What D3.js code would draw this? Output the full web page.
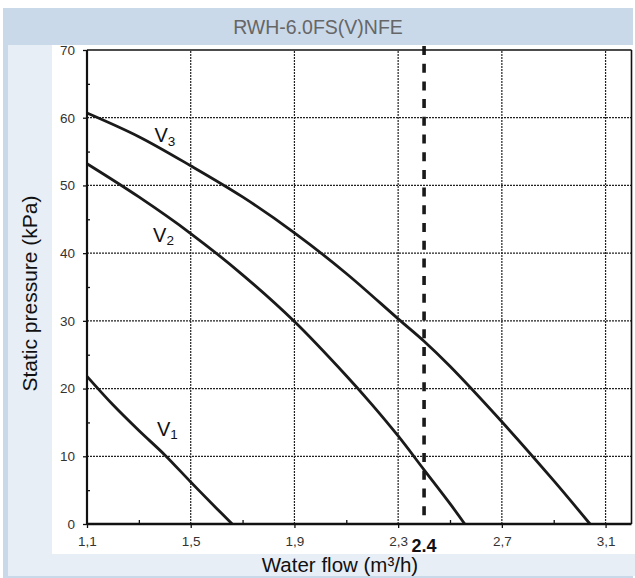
<!DOCTYPE html>
<html><head><meta charset="utf-8">
<script src="https://cdn.jsdelivr.net/npm/d3@7"></script>
<style>body{margin:0;background:#fff}svg{display:block;font-family:"Liberation Sans",Arial,sans-serif}</style>
</head><body><svg id="c" width="635" height="578"></svg>
<script>
// ---- data ----
const chartTitle = "RWH-6.0FS(V)NFE";
const xTitle = "Water flow (m³/h)";
const yTitle = "Static pressure (kPa)";
const xTicks = [1.1, 1.5, 1.9, 2.3, 2.7, 3.1];
const xTickLabels = ["1,1", "1,5", "1,9", "2,3", "2,7", "3,1"];
const xMinor = [1.3, 1.7, 2.1, 2.5, 2.9];
const yTicks = [0, 10, 20, 30, 40, 50, 60, 70];
const yMinor = [5, 15, 25, 35, 45, 55, 65];
const seriesNames = ["1", "2", "3"];
const flowV1 = [1.1, 1.2, 1.3, 1.4, 1.5, 1.6, 1.66];
const presV1 = [21.8, 17.6, 13.8, 10.2, 6.2, 2.3, 0];
const flowV2 = [1.1, 1.3, 1.5, 1.7, 1.9, 2.1, 2.2, 2.3, 2.4, 2.5, 2.557];
const presV2 = [53.2, 48.3, 42.9, 36.8, 29.9, 21.9, 17.6, 13.0, 8.0, 3.0, 0];
const flowV3 = [1.1, 1.3, 1.5, 1.7, 1.9, 2.1, 2.3, 2.4, 2.5, 2.7, 2.9, 3.04];
const presV3 = [60.7, 57.2, 52.9, 48.3, 43.0, 37.0, 30.3, 27.0, 23.3, 15.1, 6.4, 0];
const markerFlow = 2.4;
const markerLabel = "2.4";

// ---- layout ----
const svg = d3.select("#c");
const x = d3.scaleLinear().domain([1.1, 3.2]).range([87, 631.5]);
const y = d3.scaleLinear().domain([0, 70]).range([524, 50]);

// backgrounds
svg.append("rect").attr("x", 3).attr("y", 8).attr("width", 630).attr("height", 570).attr("fill", "#c9d9ea");
svg.append("rect").attr("x", 8).attr("y", 45).attr("width", 627).attr("height", 531).attr("fill", "#e7eef6");
svg.append("rect").attr("x", 52).attr("y", 45).attr("width", 583).attr("height", 509).attr("fill", "#ffffff");

svg.append("text").attr("x", 318).attr("y", 34).attr("text-anchor", "middle")
  .attr("font-size", 19.5).attr("fill", "#666").text(chartTitle);

// grid
const grid = svg.append("g").attr("stroke", "#222").attr("stroke-width", 1.2).attr("stroke-dasharray", "2,1");
grid.selectAll("line.v").data(xTicks.slice(1)).join("line")
  .attr("x1", d => x(d)).attr("x2", d => x(d)).attr("y1", y(0)).attr("y2", y(70));
grid.selectAll("line.h").data(yTicks.slice(1, -1)).join("line")
  .attr("x1", x(1.1)).attr("x2", x(3.2)).attr("y1", d => y(d)).attr("y2", d => y(d));

// curves
const line = d3.line().x(d => x(d[0])).y(d => y(d[1])).curve(d3.curveCatmullRom.alpha(0.5));
const curves = [d3.zip(flowV1, presV1), d3.zip(flowV2, presV2), d3.zip(flowV3, presV3)];
svg.append("g").selectAll("path").data(curves).join("path")
  .attr("d", line).attr("fill", "none").attr("stroke", "#1a1a1a").attr("stroke-width", 2.8);

// marker dashed line
svg.append("line").attr("x1", x(markerFlow)).attr("x2", x(markerFlow))
  .attr("y1", y(70) - 4).attr("y2", y(0))
  .attr("stroke", "#1a1a1a").attr("stroke-width", 3.6).attr("stroke-dasharray", "9,8.7");

// frame
svg.append("line").attr("x1", x(1.1)).attr("x2", x(3.2)).attr("y1", y(70)).attr("y2", y(70)).attr("stroke", "#111").attr("stroke-width", 1.6);
svg.append("line").attr("x1", x(3.2)).attr("x2", x(3.2)).attr("y1", y(70)).attr("y2", y(0)).attr("stroke", "#111").attr("stroke-width", 1.6);

// axes
const xAxis = svg.append("g").attr("transform", `translate(0,${y(0)})`)
  .call(d3.axisBottom(x).tickValues(xTicks).tickFormat((d, i) => xTickLabels[i]).tickSize(4).tickPadding(8));
const xMinorAxis = svg.append("g").attr("transform", `translate(0,${y(0)})`)
  .call(d3.axisTop(x).tickValues(xMinor).tickFormat("").tickSize(4));
const yAxis = svg.append("g").attr("transform", `translate(${x(1.1)},0)`)
  .call(d3.axisLeft(y).tickValues(yTicks).tickSize(4).tickPadding(8));
const yMinorAxis = svg.append("g").attr("transform", `translate(${x(1.1)},0)`)
  .call(d3.axisRight(y).tickValues(yMinor).tickFormat("").tickSize(3));
[xAxis, xMinorAxis, yAxis, yMinorAxis].forEach(g => {
  g.attr("font-size", 13.5).attr("font-family", "Liberation Sans, Arial, sans-serif");
  g.selectAll(".domain").remove();
  g.selectAll(".tick line").attr("stroke", "#111").attr("stroke-width", 1.3);
  g.selectAll("text").attr("fill", "#333");
});
svg.append("line").attr("x1", x(1.1)).attr("x2", x(3.2)).attr("y1", y(0)).attr("y2", y(0)).attr("stroke", "#111").attr("stroke-width", 2.6);
svg.append("line").attr("x1", x(1.1)).attr("x2", x(1.1)).attr("y1", y(70)).attr("y2", y(0)).attr("stroke", "#111").attr("stroke-width", 2.2);

// marker label
svg.append("text").attr("x", x(markerFlow)).attr("y", 552).attr("text-anchor", "middle")
  .attr("font-size", 18).attr("font-weight", "bold").attr("fill", "#111").text(markerLabel);

// series labels
const labelPos = [[1.37, 13.0], [1.355, 41.7], [1.36, 56.4]];
seriesNames.forEach((n, i) => {
  const t = svg.append("text").attr("x", x(labelPos[i][0])).attr("y", y(labelPos[i][1]))
    .attr("font-size", 20).attr("fill", "#111");
  t.append("tspan").text("V");
  t.append("tspan").attr("dy", 3.5).attr("font-size", 13.5).text(n);
});

// axis titles
svg.append("text").attr("x", 340).attr("y", 572).attr("text-anchor", "middle")
  .attr("font-size", 20.5).attr("fill", "#111").text(xTitle);
svg.append("text").attr("transform", "translate(36.5,293.5) rotate(-90)").attr("text-anchor", "middle")
  .attr("font-size", 21).attr("fill", "#111").text(yTitle);
</script></body></html>
